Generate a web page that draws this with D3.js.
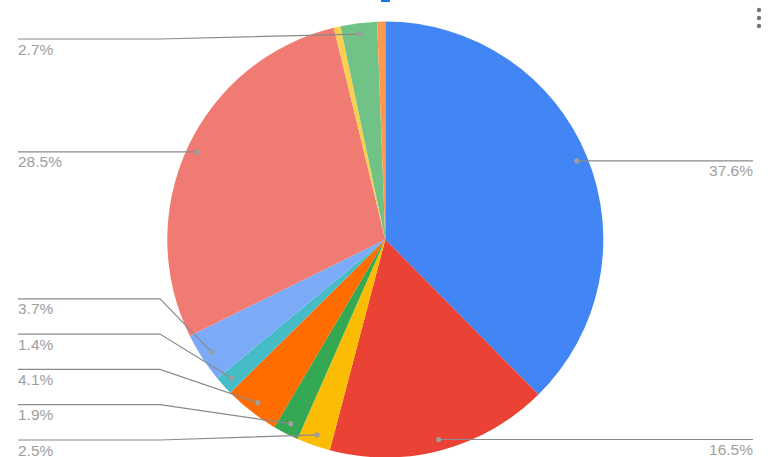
<!DOCTYPE html>
<html><head><meta charset="utf-8">
<script src="https://cdn.jsdelivr.net/npm/d3@7"></script>
<style>html,body{margin:0;padding:0;background:#fff;overflow:hidden}</style>
</head><body>
<svg id="chart" width="768" height="457"></svg>
<script>
const categories = ["A","B","C","D","E","F","G","H","I","J","K"];
const values = [37.6, 16.5, 2.5, 1.9, 4.1, 1.4, 3.7, 28.5, 0.5, 2.7, 0.6];
const labels = ["37.6%","16.5%","2.5%","1.9%","4.1%","1.4%","3.7%","28.5%","","2.7%",""];
const colors = ["#4285f4","#ea4335","#fbbc04","#34a853","#ff6d01","#46bdc6","#7baaf7","#f07b72","#fcd04f","#71c287","#ff994d"];

const svg = d3.select("#chart");
const cx = 385.3, cy = 239.5, R = 218, dotR = 207;
const textColor = "#9e9e9e", lineColor = "#8a8a8a";
const leftX = 18, rightX = 753, bendLeft = 160, spacing = 35.3, labelTop = 39, labelBottom = 440;

const data = categories.map((c,i)=>({c, v: values[i], label: labels[i], color: colors[i]}));
const pie = d3.pie().value(d=>d.v).sort(null);
const arcs = pie(data);
const arc = d3.arc().innerRadius(0).outerRadius(R);
const dotArc = d3.arc().innerRadius(dotR).outerRadius(dotR);

// top partial element and menu
svg.append("rect").attr("x",381).attr("y",0).attr("width",9).attr("height",2).attr("fill","#1a73e8");
const menu = svg.append("g").attr("fill","#757575");
[10,18,26].forEach(y=>menu.append("circle").attr("cx",759).attr("cy",y).attr("r",2.2));

const g = svg.append("g").attr("transform",`translate(${cx},${cy})`);
g.selectAll("path").data(arcs).join("path")
  .attr("d",arc).attr("fill",d=>d.data.color);

// label layout
const items = arcs.filter(a=>a.data.label).map(a=>{
  const m = (a.startAngle+a.endAngle)/2;
  const p = dotArc.centroid(a);
  return {a, label:a.data.label, dx:cx+p[0], dy:cy+p[1], side: Math.sin(m) >= 0 ? "right" : "left"};
});
const left = items.filter(d=>d.side==="left").sort((a,b)=>b.dy-a.dy);
let prev = null;
left.forEach((d,i)=>{
  let y = d.dy;
  if (i===0 && d.dy > labelBottom - 10) y = labelBottom;
  if (prev!==null) y = Math.min(y, prev - spacing);
  y = Math.max(y, labelTop);
  d.ly = y; prev = y;
});
items.filter(d=>d.side==="right").forEach(d=>{ d.ly = d.dy; });

const lab = svg.append("g");
items.forEach(d=>{
  let pts;
  if (d.side==="left") pts = [[leftX,d.ly],[bendLeft,d.ly],[d.dx,d.dy]];
  else pts = [[d.dx,d.dy],[rightX,d.ly]];
  lab.append("path").attr("d",d3.line()(pts)).attr("fill","none")
    .attr("stroke",lineColor).attr("stroke-width",1.2);
  lab.append("circle").attr("cx",d.dx).attr("cy",d.dy).attr("r",2.6).attr("fill","#9e9e9e");
  lab.append("text").attr("x",d.side==="left"?leftX:rightX).attr("y",d.ly+15.5)
    .attr("text-anchor",d.side==="left"?"start":"end")
    .attr("font-family","Liberation Sans, Arial, sans-serif").attr("font-size","15.5px")
    .attr("fill",textColor).text(d.label);
});
</script>
</body></html>
